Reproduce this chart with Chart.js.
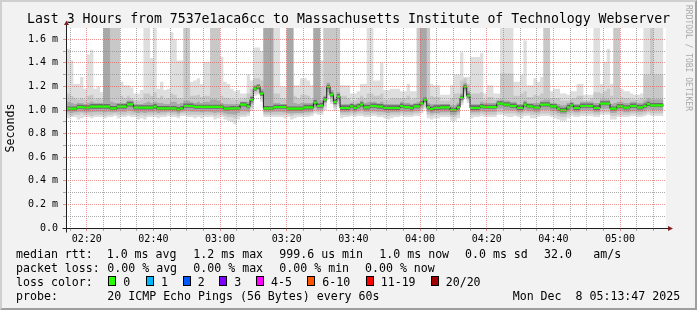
<!DOCTYPE html>
<html lang="en">
<head>
<meta charset="UTF-8">
<title>Last 3 Hours - Smokeping</title>
<style>
  body { margin: 0; background: #fff; }
  #wrap { position: relative; width: 697px; height: 310px; background: #f2f2f2; overflow: hidden;
          font-family: 'DejaVu Sans Mono', monospace; color: #000; }
  #wrap canvas { position: absolute; left: 0; top: 0; }
  #frame { position: absolute; left: 0; top: 0; width: 697px; height: 310px; box-sizing: border-box;
           border-top: 2px solid #cfcfcf; border-left: 2px solid #cfcfcf;
           border-right: 2px solid #9e9e9e; border-bottom: 2px solid #9e9e9e; pointer-events: none; }
  #title { position: absolute; left: 0; top: 11.4px; width: 697px; text-align: center; white-space: pre;
           font-size: 13.2px; line-height: 16px; }
  #mark { position: absolute; left: 683px; top: 5px; writing-mode: vertical-rl; font-size: 8px;
          line-height: 10px; color: #a8a8a8; white-space: pre; }
  .t { position: absolute; white-space: pre; font-size: 11.6px; line-height: 14px; }
  .box { position: absolute; top: 276px; width: 6px; height: 8px; border: 1px solid #000; }
</style>
</head>
<body>
<div id="wrap">
  <canvas id="smoke" width="697" height="310"></canvas>
  <div id="title">Last 3 Hours from 7537e1aca6cc to Massachusetts Institute of Technology Webserver</div>
  <div id="mark">RRDTOOL / TOBI OETIKER</div>

  <div class="t" style="left:16px;top:247px">median rtt:</div>
  <div class="t" style="left:106.7px;top:247px">1.0 ms avg</div>
  <div class="t" style="left:193.3px;top:247px">1.2 ms max</div>
  <div class="t" style="left:279.3px;top:247px">999.6 us min</div>
  <div class="t" style="left:379.3px;top:247px">1.0 ms now</div>
  <div class="t" style="left:465px;top:247px">0.0 ms sd</div>
  <div class="t" style="left:544px;top:247px">32.0</div>
  <div class="t" style="left:593.3px;top:247px">am/s</div>

  <div class="t" style="left:16px;top:261px">packet loss:</div>
  <div class="t" style="left:107.3px;top:261px">0.00 % avg</div>
  <div class="t" style="left:193.3px;top:261px">0.00 % max</div>
  <div class="t" style="left:279.3px;top:261px">0.00 % min</div>
  <div class="t" style="left:365px;top:261px">0.00 % now</div>

  <div class="t" style="left:16px;top:275px">loss color:</div>
  <div id="lossRow"></div>

  <div class="t" style="left:16px;top:289px">probe:</div>
  <div class="t" style="left:107.3px;top:289px">20 ICMP Echo Pings (56 Bytes) every 60s</div>
  <div class="t" style="left:512.7px;top:289px">Mon Dec  8 05:13:47 2025</div>
  <div id="frame"></div>
</div>
<script src="https://cdn.jsdelivr.net/npm/chart.js"></script>
<script>
  // minutes since midnight; first 1-minute interval starts at 02:13
  const startMinute = 133;
  const viewStart = 133 + 47 / 60;   // 02:13:47
  const viewEnd = viewStart + 180;   // 05:13:47
  const yMax = 1.695;

  const xMajor = [140, 160, 180, 200, 220, 240, 260, 280, 300];
  const xLabels = ['02:20', '02:40', '03:00', '03:20', '03:40', '04:00', '04:20', '04:40', '05:00'];

  const lossLabels = ['0', '1', '2', '3', '4-5', '6-10', '11-19', '20/20'];
  const lossColors = ['#26ff00', '#00b8ff', '#0059ff', '#7e00ff', '#ff00ff', '#ff5500', '#ff0000', '#a10000'];
  const lossBoxX = [108.3, 145.7, 182.7, 219.3, 256, 307.3, 365.7, 430.7];
  const lossTextX = [123.3, 161, 197.7, 234.3, 271, 322.3, 380.7, 445.7];

  // median rtt per minute (ms)
  const median = [
    1.011,1.011,1.011,1.011,1.025,1.025,1.020,1.020,1.028,1.028,
    1.028,1.028,1.028,1.028,1.014,1.014,1.028,1.028,1.028,1.048,
    1.048,1.020,1.020,1.020,1.020,1.020,1.020,1.028,1.014,1.014,
    1.014,1.014,1.014,1.014,1.003,1.014,1.034,1.034,1.034,1.026,
    1.026,1.026,1.026,1.026,1.026,1.026,1.026,1.026,1.011,1.011,
    1.014,1.014,1.014,1.045,1.045,1.031,1.087,1.181,1.197,1.138,
    1.014,1.014,1.014,1.025,1.025,1.025,1.025,1.011,1.011,1.011,
    1.011,1.011,1.023,1.023,1.023,1.062,1.034,1.037,1.087,1.197,
    1.130,1.068,1.113,1.017,1.017,1.017,1.031,1.017,1.031,1.045,
    1.023,1.023,1.034,1.034,1.028,1.028,1.017,1.017,1.017,1.017,
    1.017,1.034,1.025,1.025,1.017,1.031,1.031,1.056,1.087,1.023,
    1.008,1.017,1.017,1.023,1.023,1.023,1.000,1.000,1.023,1.102,
    1.197,1.121,1.017,1.017,1.017,1.031,1.025,1.025,1.025,1.025,
    1.054,1.054,1.045,1.045,1.034,1.034,1.017,1.017,1.045,1.031,
    1.031,1.020,1.020,1.045,1.045,1.045,1.031,1.031,1.011,0.997,
    0.997,1.023,1.040,1.017,1.017,1.034,1.034,1.034,1.034,1.017,
    1.017,1.054,1.054,1.054,1.011,1.011,1.031,1.031,1.020,1.020,
    1.034,1.034,1.023,1.023,1.034,1.051,1.040,1.040,1.040,1.040
  ];

  // smoke: slowest / fastest ping per minute (1.8 = off the top)
  const smokeMax = [
    1.35,1.52,1.42,1.22,1.22,1.28,1.18,1.47,1.51,1.18,
    1.20,1.15,1.8,1.8,1.8,1.8,1.8,1.24,1.21,1.21,
    1.19,1.14,1.14,1.17,1.8,1.8,1.44,1.8,1.18,1.24,
    1.17,1.18,1.66,1.60,1.42,1.42,1.8,1.8,1.24,1.25,
    1.27,1.22,1.41,1.41,1.8,1.8,1.8,1.45,1.24,1.22,
    1.18,1.16,1.17,1.14,1.14,1.30,1.25,1.53,1.53,1.50,
    1.8,1.8,1.8,1.8,1.8,1.20,1.20,1.8,1.8,1.21,
    1.21,1.27,1.27,1.25,1.21,1.8,1.8,1.42,1.8,1.8,
    1.8,1.8,1.8,1.21,1.21,1.21,1.14,1.14,1.16,1.22,
    1.22,1.8,1.8,1.25,1.25,1.40,1.17,1.17,1.18,1.18,
    1.18,1.16,1.16,1.22,1.16,1.16,1.8,1.8,1.8,1.8,
    1.22,1.21,1.21,1.13,1.13,1.13,1.21,1.30,1.30,1.49,
    1.28,1.28,1.45,1.45,1.45,1.48,1.14,1.21,1.21,1.14,
    1.14,1.8,1.8,1.8,1.8,1.24,1.24,1.30,1.59,1.21,
    1.21,1.27,1.24,1.28,1.8,1.8,1.16,1.18,1.18,1.14,
    1.14,1.13,1.16,1.16,1.22,1.22,1.13,1.13,1.13,1.8,
    1.8,1.22,1.41,1.52,1.22,1.8,1.8,1.18,1.16,1.16,
    1.14,1.13,1.13,1.14,1.8,1.8,1.8,1.8,1.8,1.8
  ];
  const smokeMin = [
    0.93,0.93,0.94,0.94,0.92,0.93,0.94,0.94,0.93,0.94,
    0.94,0.94,0.93,0.94,0.94,0.95,0.93,0.94,0.94,0.95,
    0.94,0.94,0.92,0.93,0.92,0.94,0.94,0.94,0.93,0.94,
    0.94,0.95,0.94,0.94,0.93,0.95,0.95,0.94,0.94,0.93,
    0.94,0.93,0.94,0.94,0.94,0.92,0.93,0.94,0.92,0.91,
    0.90,0.88,0.92,0.94,0.94,0.95,0.99,1.12,1.13,1.07,
    0.94,0.94,0.94,0.94,0.94,0.94,0.93,0.94,0.92,0.93,
    0.94,0.94,0.94,0.94,0.95,0.97,0.96,0.96,1.00,1.09,
    1.05,0.99,1.03,0.93,0.94,0.94,0.95,0.94,0.95,0.95,
    0.94,0.94,0.95,0.95,0.94,0.94,0.93,0.92,0.93,0.94,
    0.94,0.95,0.94,0.94,0.94,0.95,0.95,0.97,1.01,0.93,
    0.92,0.93,0.93,0.94,0.94,0.94,0.91,0.91,0.93,1.04,
    1.11,1.06,0.93,0.94,0.94,0.95,0.94,0.94,0.94,0.94,
    0.96,0.96,0.95,0.94,0.94,0.95,0.94,0.93,0.95,0.95,
    0.93,0.93,0.94,0.95,0.95,0.95,0.94,0.93,0.92,0.91,
    0.91,0.93,0.95,0.94,0.94,0.95,0.95,0.95,0.95,0.94,
    0.94,0.96,0.96,0.96,0.92,0.92,0.94,0.94,0.94,0.94,
    0.95,0.95,0.94,0.94,0.95,0.96,0.95,0.95,0.95,0.95
  ];
  // outer-middle smoke band
  const smokeHi2 = [
    1.12,1.14,1.12,1.10,1.09,1.10,1.09,1.12,1.13,1.09,
    1.10,1.09,1.8,1.8,1.8,1.8,1.8,1.12,1.10,1.12,
    1.10,1.08,1.08,1.09,1.14,1.14,1.12,1.15,1.10,1.12,
    1.09,1.10,1.14,1.13,1.10,1.10,1.8,1.8,1.12,1.12,
    1.13,1.11,1.12,1.12,1.8,1.8,1.8,1.12,1.10,1.10,
    1.09,1.09,1.09,1.09,1.10,1.14,1.18,1.27,1.27,1.25,
    1.8,1.8,1.8,1.14,1.14,1.10,1.10,1.8,1.8,1.12,
    1.10,1.13,1.13,1.12,1.10,1.8,1.8,1.20,1.8,1.8,
    1.8,1.8,1.8,1.12,1.12,1.10,1.08,1.08,1.10,1.12,
    1.10,1.14,1.14,1.12,1.12,1.14,1.09,1.09,1.10,1.10,
    1.10,1.10,1.10,1.12,1.09,1.10,1.8,1.8,1.8,1.8,
    1.12,1.11,1.11,1.08,1.08,1.08,1.10,1.14,1.14,1.25,
    1.27,1.22,1.14,1.14,1.14,1.15,1.09,1.11,1.11,1.09,
    1.10,1.31,1.31,1.31,1.31,1.12,1.12,1.14,1.16,1.11,
    1.11,1.13,1.12,1.14,1.8,1.8,1.10,1.10,1.10,1.08,
    1.08,1.08,1.10,1.10,1.12,1.12,1.08,1.08,1.10,1.15,
    1.15,1.14,1.16,1.18,1.12,1.8,1.8,1.11,1.10,1.10,
    1.09,1.09,1.09,1.10,1.30,1.30,1.8,1.30,1.30,1.30
  ];
  const smokeLo2 = [
    0.96,0.96,0.95,0.96,0.96,0.97,0.96,0.96,0.95,0.96,
    0.96,0.96,0.95,0.96,0.96,0.97,0.96,0.96,0.96,0.97,
    0.96,0.96,0.95,0.96,0.95,0.96,0.96,0.96,0.96,0.96,
    0.96,0.97,0.96,0.96,0.95,0.97,0.97,0.96,0.96,0.96,
    0.96,0.96,0.96,0.96,0.96,0.95,0.96,0.96,0.95,0.94,
    0.94,0.93,0.95,0.96,0.96,0.97,1.02,1.14,1.15,1.10,
    0.96,0.96,0.96,0.96,0.96,0.96,0.96,0.96,0.95,0.96,
    0.96,0.96,0.96,0.96,0.97,0.99,0.98,0.98,1.03,1.12,
    1.07,1.02,1.05,0.96,0.96,0.96,0.97,0.96,0.97,0.97,
    0.96,0.96,0.97,0.97,0.96,0.96,0.96,0.95,0.96,0.96,
    0.96,0.97,0.96,0.96,0.96,0.97,0.97,0.99,1.03,0.96,
    0.95,0.96,0.96,0.96,0.96,0.96,0.94,0.94,0.96,1.06,
    1.14,1.08,0.96,0.96,0.96,0.97,0.96,0.96,0.96,0.96,
    0.98,0.98,0.97,0.97,0.97,0.97,0.96,0.96,0.97,0.97,
    0.96,0.96,0.96,0.97,0.97,0.97,0.96,0.96,0.95,0.94,
    0.94,0.96,0.97,0.96,0.96,0.97,0.97,0.97,0.97,0.96,
    0.96,0.98,0.98,0.98,0.95,0.95,0.96,0.96,0.96,0.96,
    0.97,0.97,0.96,0.96,0.97,0.98,0.97,0.97,0.97,0.97
  ];
  // inner-middle smoke band
  const smokeHi3 = [
    1.06,1.07,1.06,1.05,1.06,1.06,1.05,1.06,1.07,1.06,
    1.06,1.06,1.8,1.8,1.07,1.06,1.06,1.06,1.06,1.08,
    1.08,1.05,1.05,1.05,1.06,1.07,1.06,1.07,1.06,1.06,
    1.05,1.05,1.07,1.07,1.05,1.06,1.08,1.08,1.07,1.06,
    1.07,1.06,1.07,1.07,1.09,1.09,1.08,1.06,1.05,1.05,
    1.05,1.05,1.05,1.07,1.07,1.07,1.12,1.21,1.22,1.18,
    1.8,1.8,1.8,1.06,1.06,1.05,1.05,1.8,1.8,1.06,
    1.05,1.06,1.06,1.06,1.06,1.8,1.8,1.08,1.12,1.23,
    1.17,1.10,1.15,1.05,1.05,1.05,1.06,1.05,1.06,1.08,
    1.06,1.07,1.07,1.07,1.06,1.07,1.05,1.05,1.05,1.05,
    1.05,1.07,1.06,1.06,1.05,1.06,1.07,1.8,1.8,1.06,
    1.05,1.05,1.05,1.05,1.05,1.05,1.04,1.04,1.06,1.14,
    1.23,1.16,1.05,1.05,1.05,1.07,1.06,1.06,1.06,1.06,
    1.08,1.09,1.08,1.08,1.07,1.07,1.05,1.05,1.08,1.06,
    1.06,1.06,1.06,1.08,1.09,1.09,1.06,1.06,1.05,1.04,
    1.04,1.06,1.07,1.05,1.05,1.07,1.07,1.07,1.07,1.06,
    1.06,1.09,1.09,1.09,1.05,1.06,1.07,1.07,1.06,1.06,
    1.07,1.07,1.06,1.06,1.08,1.10,1.09,1.09,1.09,1.09
  ];
  const smokeLo3 = [
    0.980,0.980,0.975,0.980,0.985,0.985,0.980,0.980,0.980,0.985,
    0.985,0.985,0.980,0.985,0.980,0.980,0.985,0.985,0.985,0.995,
    0.990,0.980,0.975,0.980,0.975,0.980,0.980,0.985,0.975,0.980,
    0.980,0.985,0.980,0.980,0.970,0.985,0.990,0.990,0.985,0.985,
    0.985,0.980,0.985,0.985,0.980,0.975,0.980,0.980,0.970,0.965,
    0.965,0.960,0.975,0.990,0.990,0.985,1.050,1.160,1.170,1.120,
    0.980,0.980,0.980,0.985,0.985,0.985,0.980,0.975,0.970,0.975,
    0.975,0.975,0.980,0.980,0.985,1.020,1.000,1.000,1.060,1.150,
    1.100,1.040,1.080,0.980,0.980,0.980,0.990,0.980,0.990,1.000,
    0.985,0.985,0.990,0.990,0.985,0.985,0.980,0.975,0.980,0.980,
    0.980,0.990,0.985,0.985,0.980,0.990,0.990,1.020,1.060,0.980,
    0.970,0.975,0.975,0.980,0.980,0.980,0.960,0.960,0.980,1.080,
    1.160,1.100,0.980,0.980,0.980,0.990,0.985,0.985,0.985,0.985,
    1.010,1.010,1.000,1.000,0.995,0.995,0.980,0.980,1.000,0.990,
    0.990,0.980,0.980,1.000,1.000,1.000,0.990,0.990,0.975,0.965,
    0.965,0.980,0.995,0.980,0.980,0.995,0.995,0.995,0.995,0.980,
    0.980,1.010,1.010,1.010,0.975,0.975,0.990,0.990,0.980,0.980,
    0.990,0.990,0.985,0.985,0.990,1.005,1.000,1.000,1.000,1.000
  ];
  // dark core around the median
  const smokeHi4 = [
    1.030,1.030,1.030,1.030,1.045,1.045,1.040,1.040,1.050,1.050,
    1.050,1.050,1.050,1.050,1.035,1.035,1.050,1.050,1.050,1.070,
    1.070,1.040,1.040,1.040,1.040,1.040,1.040,1.050,1.035,1.035,
    1.035,1.035,1.035,1.035,1.025,1.035,1.055,1.055,1.055,1.045,
    1.045,1.045,1.045,1.045,1.045,1.045,1.045,1.045,1.030,1.030,
    1.035,1.035,1.035,1.065,1.065,1.050,1.110,1.200,1.215,1.160,
    1.035,1.035,1.035,1.045,1.045,1.045,1.045,1.030,1.030,1.030,
    1.030,1.030,1.045,1.045,1.045,1.085,1.055,1.060,1.110,1.215,
    1.150,1.090,1.135,1.040,1.040,1.040,1.050,1.040,1.050,1.065,
    1.045,1.045,1.055,1.055,1.050,1.050,1.040,1.040,1.040,1.040,
    1.040,1.055,1.045,1.045,1.040,1.050,1.050,1.075,1.105,1.045,
    1.030,1.040,1.040,1.045,1.045,1.045,1.020,1.020,1.045,1.120,
    1.215,1.140,1.040,1.040,1.040,1.050,1.045,1.045,1.045,1.045,
    1.075,1.075,1.065,1.065,1.055,1.055,1.040,1.040,1.065,1.050,
    1.050,1.040,1.040,1.065,1.065,1.065,1.050,1.050,1.030,1.020,
    1.020,1.045,1.060,1.040,1.040,1.055,1.055,1.055,1.055,1.040,
    1.040,1.075,1.075,1.075,1.030,1.030,1.050,1.050,1.040,1.040,
    1.055,1.055,1.045,1.045,1.055,1.070,1.060,1.060,1.060,1.060
  ];
  const smokeLo4 = [
    0.995,0.995,0.995,0.995,1.010,1.010,1.005,1.005,1.010,1.010,
    1.010,1.010,1.010,1.010,1.000,1.000,1.010,1.010,1.010,1.030,
    1.030,1.005,1.005,1.005,1.005,1.005,1.005,1.010,1.000,1.000,
    1.000,1.000,1.000,1.000,0.990,1.000,1.020,1.020,1.020,1.010,
    1.010,1.010,1.010,1.010,1.010,1.010,1.010,1.010,0.995,0.995,
    1.000,1.000,1.000,1.030,1.030,1.015,1.070,1.165,1.180,1.120,
    1.000,1.000,1.000,1.010,1.010,1.010,1.010,0.995,0.995,0.995,
    0.995,0.995,1.005,1.005,1.005,1.045,1.020,1.020,1.070,1.180,
    1.115,1.050,1.095,1.000,1.000,1.000,1.015,1.000,1.015,1.030,
    1.005,1.005,1.020,1.020,1.010,1.010,1.000,1.000,1.000,1.000,
    1.000,1.020,1.010,1.010,1.000,1.015,1.015,1.040,1.070,1.005,
    0.990,1.000,1.000,1.005,1.005,1.005,0.985,0.985,1.005,1.085,
    1.180,1.105,1.000,1.000,1.000,1.015,1.010,1.010,1.010,1.010,
    1.040,1.040,1.030,1.030,1.020,1.020,1.000,1.000,1.030,1.015,
    1.015,1.005,1.005,1.030,1.030,1.030,1.015,1.015,0.995,0.980,
    0.980,1.005,1.025,1.000,1.000,1.020,1.020,1.020,1.020,1.000,
    1.000,1.040,1.040,1.040,0.995,0.995,1.015,1.015,1.005,1.005,
    1.020,1.020,1.005,1.005,1.020,1.035,1.025,1.025,1.025,1.025
  ];

  // legend row of loss colours
  const lossRow = document.getElementById('lossRow');
  lossLabels.forEach((lab, i) => {
    const b = document.createElement('div');
    b.className = 'box';
    b.style.left = lossBoxX[i] + 'px';
    b.style.background = lossColors[i];
    lossRow.appendChild(b);
    const t = document.createElement('div');
    t.className = 't';
    t.style.left = lossTextX[i] + 'px';
    t.style.top = '275px';
    t.textContent = lab;
    lossRow.appendChild(t);
  });

  // each value holds for one minute: add the closing point
  function steps(arr) {
    const pts = arr.map((v, i) => ({x: startMinute + i, y: v}));
    pts.push({x: startMinute + arr.length, y: arr[arr.length - 1]});
    return pts;
  }
  // horizontal green dashes, no vertical joins
  function dashes(arr) {
    const pts = [];
    arr.forEach((v, i) => {
      pts.push({x: startMinute + i, y: v}, {x: startMinute + i + 1, y: v}, {x: startMinute + i + 1, y: null});
    });
    return pts;
  }

  const xMinor = [];
  for (let m = 135; m < viewEnd; m += 5) xMinor.push(m);

  const majorGrid = 'rgba(222,79,79,0.6)';
  const minorGrid = 'rgba(143,143,143,0.75)';

  function band(data, color, fillTo) {
    return {data: steps(data), stepped: true, borderWidth: 0, pointRadius: 0,
            backgroundColor: color, fill: fillTo, clip: 0};
  }

  const rrdFrame = {
    id: 'rrdFrame',
    beforeDraw(chart) {
      const {ctx, chartArea: a} = chart;
      ctx.save();
      ctx.fillStyle = '#ffffff';
      ctx.fillRect(a.left, a.top, a.right - a.left, a.bottom - a.top);
      ctx.restore();
    },
    afterDraw(chart) {
      const {ctx, chartArea: a} = chart;
      const x0 = a.left + 0.5, y0 = a.bottom + 0.5;
      ctx.save();
      ctx.strokeStyle = '#1f1f1f';
      ctx.lineWidth = 1;
      ctx.beginPath();
      ctx.moveTo(x0, y0 + 4);
      ctx.lineTo(x0, a.top - 4);
      ctx.moveTo(x0 - 4, y0);
      ctx.lineTo(a.right + 4, y0);
      ctx.stroke();
      ctx.fillStyle = '#801f1f';
      ctx.beginPath();
      ctx.moveTo(x0 - 2.5, a.top - 3);
      ctx.lineTo(x0 + 2.5, a.top - 3);
      ctx.lineTo(x0, a.top - 7.5);
      ctx.closePath();
      ctx.fill();
      ctx.beginPath();
      ctx.moveTo(a.right + 2, y0 - 2.5);
      ctx.lineTo(a.right + 2, y0 + 2.5);
      ctx.lineTo(a.right + 7, y0);
      ctx.closePath();
      ctx.fill();
      ctx.restore();
    }
  };

  Chart.defaults.font.family = "'DejaVu Sans Mono', monospace";
  Chart.defaults.color = '#000';

  new Chart(document.getElementById('smoke'), {
    type: 'line',
    data: {
      datasets: [
        {data: dashes(median), borderColor: '#26ff00', borderWidth: 2.2, pointRadius: 0,
         spanGaps: false, fill: false, clip: 0, borderCapStyle: 'butt'},
        {data: steps(median), stepped: true, borderColor: '#1a1a1a', borderWidth: 1,
         pointRadius: 0, fill: false, clip: 0},
        band(smokeHi4, '#6c6c6c', 3),
        band(smokeLo4, 'rgba(0,0,0,0)', false),
        band(smokeHi3, '#a8a8a8', 5),
        band(smokeLo3, 'rgba(0,0,0,0)', false),
        band(smokeHi2, '#c8c8c8', 7),
        band(smokeLo2, 'rgba(0,0,0,0)', false),
        band(smokeMax, '#dedede', 9),
        band(smokeMin, 'rgba(0,0,0,0)', false)
      ]
    },
    options: {
      responsive: false,
      animation: false,
      layout: {padding: {left: 0, top: 28, right: 31, bottom: 0}},
      plugins: {legend: {display: false}, tooltip: {enabled: false}, title: {display: false}},
      scales: {
        x: {
          type: 'linear', min: viewStart, max: viewEnd, offset: false,
          afterFit(s) { s.height = 82; },
          afterBuildTicks(s) { s.ticks = xMinor.map(v => ({value: v})); },
          ticks: {
            autoSkip: false, maxRotation: 0, padding: 2, font: {size: 10}, color: '#000',
            callback(v) { const k = xMajor.indexOf(v); return k >= 0 ? xLabels[k] : ''; }
          },
          grid: {
            z: 1, lineWidth: 1, tickLength: 3,
            color: c => xMajor.includes(c.tick.value) ? majorGrid : minorGrid,
            tickColor: c => xMajor.includes(c.tick.value) ? majorGrid : minorGrid
          },
          border: {display: false, dash: [1, 1]}
        },
        y: {
          type: 'linear', min: 0, max: yMax,
          afterFit(s) { s.width = 66; },
          ticks: {
            stepSize: 0.1, includeBounds: false, autoSkip: false, padding: 5,
            font: {size: 10}, color: '#000',
            callback(v) {
              const n = Math.round(v * 10);
              if (n % 2 !== 0) return '';
              return n === 0 ? '0.0' : (n / 10).toFixed(1) + ' m';
            }
          },
          grid: {
            z: 1, lineWidth: 1, tickLength: 3,
            color: c => Math.round(c.tick.value * 10) % 2 === 0 ? majorGrid : minorGrid,
            tickColor: c => Math.round(c.tick.value * 10) % 2 === 0 ? majorGrid : minorGrid
          },
          border: {display: false, dash: [1, 1]},
          title: {display: true, text: 'Seconds', font: {size: 11.6}, color: '#000', padding: {top: 4, bottom: 0}}
        }
      }
    },
    plugins: [rrdFrame]
  });
</script>
</body>
</html>
